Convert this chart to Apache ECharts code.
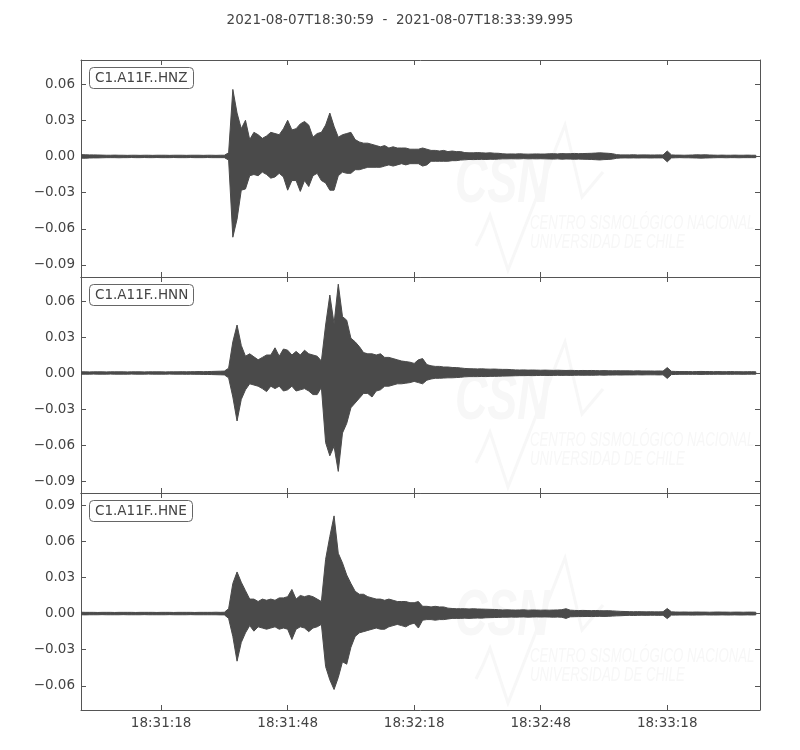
<!DOCTYPE html>
<html>
<head>
<meta charset="utf-8">
<script src="https://cdn.jsdelivr.net/npm/echarts@6/dist/echarts.min.js"></script>
<style>html,body{margin:0;padding:0;background:#fff}#c{width:800px;height:750px}</style>
</head>
<body>
<div id="c"></div>
<script>
// ---- data ----
const startLabel = '2021-08-07T18:30:59';
const endLabel = '2021-08-07T18:33:39.995';
const channels = ['C1.A11F..HNZ', 'C1.A11F..HNN', 'C1.A11F..HNE'];
const durationSec = 160.995;
const xTickValues = [19, 49, 79, 109, 139];
const xTickLabels = ['18:31:18', '18:31:48', '18:32:18', '18:32:48', '18:33:18'];
const yTicksZ = [-0.09, -0.06, -0.03, 0, 0.03, 0.06];
const yTicksN = [-0.09, -0.06, -0.03, 0, 0.03, 0.06];
const yTicksE = [-0.06, -0.03, 0, 0.03, 0.06, 0.09];
const yRangeZ = [-0.1, 0.08];
const yRangeN = [-0.1, 0.08];
const yRangeE = [-0.08, 0.1];

// envelope per 1-s bin (t = 0..160 s after start), in units of 1e-3
const hiZ = [
1.5,1.4,1.3,1.3,1.2,1.1,1.0,1.0,1.1,1.0,
1.0,0.9,1.0,1.0,0.9,1.0,1.0,0.9,1.0,1.0,
1.0,0.9,1.0,1.0,1.0,0.9,1.0,1.0,1.0,0.9,
1.0,1.0,0.9,1.0,1.0,
3,55.6,36,23,30,
14,20,18,15,17,20,19,18,23,30,
22,23,27,29,26,16,19,20,26,36,
25,16,18,19,20,14,12,11,11,10,
9,8,9,7,8,7,7,7,6,6,
6,7,6,5,5,4.5,5,4,4.5,4,
4,3.2,3,3,3.2,3,2.8,3,2.7,2.6,
2.2,2,2.1,2,2.2,2,1.9,2,2.1,2,
2,2.2,2.3,2.1,2.4,2.2,2.3,2.5,2.3,2.4,
2.5,2.6,2.8,3,2.8,2.6,2.3,1.5,1.3,1.3,
1.3,1.4,1.2,1.3,1.3,1.2,1.2,1.3,1.2,4.5,
1.3,1.1,1.1,1.0,1.1,1.2,1.4,1.3,1.4,1.2,
1.1,1.0,1.1,1.0,1.0,1.1,1.0,1.0,1.1,1.0,1.0];
const loZ = [
-1.4,-1.5,-1.3,-1.2,-1.2,-1.1,-1.0,-1.0,-1.0,-1.1,
-1.0,-1.0,-0.9,-1.0,-1.0,-0.9,-1.0,-1.0,-0.9,-1.0,
-1.0,-1.0,-0.9,-1.0,-1.0,-1.0,-0.9,-1.0,-1.0,-1.0,
-0.9,-1.0,-1.0,-1.0,-1.0,
-3,-67,-52,-28,-27,
-16,-15,-16,-13,-15,-18,-17,-14,-17,-28,
-20,-20,-29,-20,-25,-16,-14,-20,-22,-28,
-28,-16,-13,-14,-14,-11,-11,-10,-9,-9,
-9,-9,-8,-7,-8,-7,-6,-7,-6,-6,
-6,-8,-7,-4,-4,-4,-4,-4,-3.5,-3.5,
-3,-2.8,-2.5,-2.6,-2.5,-2.4,-2.5,-2.3,-2.4,-2.2,
-2,-2,-1.9,-2,-2,-1.8,-2,-1.9,-2,-1.9,
-2,-2.1,-2.2,-2,-2.3,-2.1,-2.2,-2.3,-2.2,-2.3,
-2.4,-2.5,-2.7,-2.9,-2.6,-2.5,-2.2,-1.5,-1.3,-1.2,
-1.3,-1.2,-1.3,-1.2,-1.2,-1.3,-1.2,-1.2,-1.2,-4.5,
-1.2,-1.1,-1.0,-1.1,-1.1,-1.2,-1.3,-1.4,-1.3,-1.2,
-1.1,-1.0,-1.0,-1.1,-1.0,-1.0,-1.1,-1.0,-1.0,-1.0,-1.0];
const hiN = [
1.0,1.0,0.9,1.0,1.0,1.0,0.9,1.0,1.0,1.0,
1.0,0.9,1.0,1.0,1.0,0.9,1.0,1.0,1.0,1.0,
0.9,1.0,1.0,1.0,1.1,1.0,1.1,1.1,1.2,1.1,
1.2,1.3,1.4,1.5,1.6,
4,26,40,23,14,
16,13.5,11,13,15,15,21,14,20,19,
15,18,15,19,16,15,14,10,40,65,
41,74,47,44,29,26,22,17,16,16,
15,16,13,13,12,11,10,9.5,9,8,
11,12,7,6,5.5,5.5,5,5,4.6,4.5,
4.2,3.8,3.6,3.5,3.4,3.5,3.3,3.2,3.3,3.1,
3,3,2.8,2.6,2.5,2.6,2.4,2.5,2.4,2.3,
2.4,2.3,2.2,2.3,2.2,2.1,2.2,2.1,2.0,2.1,
2.0,2.1,2.0,1.9,2.0,1.9,1.8,1.9,1.8,1.8,
1.8,1.7,1.8,1.7,1.7,1.7,1.6,1.7,1.6,4.5,
1.4,1.3,1.2,1.2,1.2,1.1,1.2,1.3,1.2,1.2,
1.1,1.2,1.1,1.1,1.2,1.1,1.1,1.0,1.1,1.1,1.0];
const loN = [
-1.0,-1.0,-1.0,-0.9,-1.0,-1.0,-1.0,-0.9,-1.0,-1.0,
-1.0,-1.0,-0.9,-1.0,-1.0,-1.0,-0.9,-1.0,-1.0,-1.0,
-1.0,-0.9,-1.0,-1.0,-1.0,-1.1,-1.0,-1.1,-1.1,-1.2,
-1.2,-1.3,-1.4,-1.5,-1.6,
-4,-20,-40,-22,-14,
-9,-10,-11,-13,-15.5,-11,-13,-11,-15,-14,
-11,-15,-14,-13,-15,-18,-18,-12,-58,-69,
-61,-82,-50,-42,-29,-25,-21,-17,-17,-20,
-15,-14,-11,-11,-10,-9,-9,-8.5,-8,-7,
-8,-9,-6,-5,-4.4,-4.4,-4.2,-4,-4,-3.8,
-3.6,-3.2,-3,-3,-3,-2.9,-3,-2.8,-2.8,-2.7,
-2.6,-2.5,-2.4,-2.3,-2.2,-2.2,-2.1,-2.2,-2.1,-2.0,
-2.0,-2.1,-2.0,-1.9,-2.0,-1.9,-2.0,-1.9,-1.8,-1.9,
-1.8,-1.9,-1.8,-1.7,-1.8,-1.7,-1.7,-1.6,-1.7,-1.6,
-1.6,-1.6,-1.5,-1.6,-1.5,-1.5,-1.5,-1.6,-1.5,-4.5,
-1.3,-1.2,-1.1,-1.1,-1.1,-1.1,-1.1,-1.2,-1.1,-1.1,
-1.1,-1.0,-1.1,-1.0,-1.1,-1.0,-1.0,-1.1,-1.0,-1.0,-1.0];
const hiE = [
1.1,1.0,1.0,1.0,0.9,1.0,1.0,1.0,0.9,1.0,
1.0,1.0,1.0,0.9,1.0,1.0,1.0,1.0,0.9,1.0,
1.0,1.0,0.9,1.0,1.0,1.0,1.0,0.9,1.0,1.0,
1.0,1.0,1.1,1.0,1.1,
4,25,34.5,26,19,
12,12,10,12,11,12,11,13,13,14,
20,12,15,14,15,14,12,10,45,64,
81,50,42,32,25,18.5,16,16,14,13,
12,12,11,12,11,10,10,10,9,9,
10,6,6,5.5,6,5.5,5.5,4.5,4.2,4,
4,4,3.8,4,3.8,3.7,3.6,3.5,3.4,3.2,
3,3.1,3,2.9,3,3.1,2.8,3,2.9,2.8,
2.9,2.8,2.9,3,3.2,4,2.8,2.6,2.5,2.6,
2.5,2.4,2.5,2.4,2.3,2.4,2.2,2.0,1.8,1.7,
1.6,1.5,1.6,1.5,1.4,1.5,1.4,1.4,1.5,4.2,
1.4,1.3,1.2,1.3,1.2,1.2,1.3,1.2,1.2,1.1,
1.2,1.3,1.2,1.2,1.1,1.2,1.2,1.1,1.2,1.2,1.1];
const loE = [
-1.0,-1.1,-1.0,-1.0,-1.0,-0.9,-1.0,-1.0,-1.0,-1.0,
-0.9,-1.0,-1.0,-1.0,-1.0,-0.9,-1.0,-1.0,-1.0,-1.0,
-1.0,-0.9,-1.0,-1.0,-1.0,-1.0,-0.9,-1.0,-1.0,-1.0,
-1.0,-1.0,-1.0,-1.1,-1.1,
-4,-19,-39.5,-24,-16,
-10,-14.6,-11,-12,-13,-12,-11,-13,-12,-13,
-21.5,-13,-11,-12,-15,-12,-11,-9,-44,-55,
-63,-53,-40,-42,-28,-19,-16,-15,-14,-13,
-12,-13,-13,-11,-10,-9,-10,-11,-9,-8,
-12,-5.5,-5,-5,-5.5,-5,-5,-4.5,-4,-4,
-4,-3.8,-4,-3.8,-3.7,-3.8,-3.5,-3.4,-3.3,-3.2,
-3,-3,-2.9,-3,-2.9,-2.8,-3,-2.9,-2.8,-2.9,
-2.8,-2.9,-3,-2.9,-3.1,-4,-2.7,-2.6,-2.5,-2.5,
-2.4,-2.5,-2.4,-2.3,-2.4,-2.3,-2.1,-1.9,-1.8,-1.6,
-1.5,-1.6,-1.5,-1.4,-1.5,-1.4,-1.4,-1.5,-1.4,-4.2,
-1.3,-1.3,-1.2,-1.2,-1.2,-1.3,-1.2,-1.2,-1.1,-1.2,
-1.2,-1.2,-1.1,-1.2,-1.2,-1.1,-1.2,-1.2,-1.1,-1.2,-1.1];

// ---- layout / style ----
const FONT = 'DejaVu Sans';
const TEXT = '#444';
const FRAME = '#555';
const TRACE = '#4a4a4a';
const WM = '#f7f7f7';
const tops = [60, 277, 493];
const heights = [217, 216, 217];
const ranges = [yRangeZ, yRangeN, yRangeE];
const yTicks = [yTicksZ, yTicksN, yTicksE];
const his = [hiZ, hiN, hiE];
const los = [loZ, loN, loE];

function yFmt(v) {
  const s = Math.abs(v).toFixed(2);
  return (v < -1e-9 ? '\u2212' : '') + s;
}
function xFmt(v) {
  const i = xTickValues.findIndex(t => Math.abs(t - v) < 1e-6);
  return i >= 0 ? xTickLabels[i] : '';
}

const grid = [], xAxis = [], yAxis = [], series = [], title = [], graphic = [];
title.push({
  text: startLabel + '  -  ' + endLabel,
  left: 'center', top: 13, padding: 0,
  textStyle: { fontFamily: FONT, fontSize: 13.5, fontWeight: 'normal', color: TEXT }
});

for (let k = 0; k < 3; k++) {
  grid.push({ left: 81, right: 40, top: tops[k], height: heights[k], containLabel: false });
  const lineCfg = { show: true, onZero: false, lineStyle: { color: FRAME, width: 1 } };
  const tickCfg = { show: true, inside: true, length: 5, lineStyle: { color: FRAME, width: 1 } };
  xAxis.push({
    gridIndex: k, type: 'value', position: 'bottom', min: 0, max: durationSec,
    axisLine: lineCfg,
    axisTick: Object.assign({ customValues: xTickValues }, tickCfg),
    axisLabel: { show: k === 2, customValues: xTickValues, formatter: xFmt, margin: 6,
      fontFamily: FONT, fontSize: 13.5, color: TEXT },
    splitLine: { show: false }
  });
  xAxis.push({
    gridIndex: k, type: 'value', position: 'top', min: 0, max: durationSec,
    axisLine: lineCfg,
    axisTick: Object.assign({ customValues: xTickValues }, tickCfg),
    axisLabel: { show: false },
    splitLine: { show: false }
  });
  yAxis.push({
    gridIndex: k, type: 'value', position: 'left', min: ranges[k][0], max: ranges[k][1],
    axisLine: lineCfg,
    axisTick: Object.assign({ customValues: yTicks[k] }, tickCfg),
    axisLabel: { customValues: yTicks[k], formatter: yFmt, margin: 6,
      fontFamily: FONT, fontSize: 13.5, color: TEXT },
    splitLine: { show: false }
  });
  yAxis.push({
    gridIndex: k, type: 'value', position: 'right', min: ranges[k][0], max: ranges[k][1],
    axisLine: lineCfg,
    axisTick: Object.assign({ customValues: yTicks[k] }, tickCfg),
    axisLabel: { show: false },
    splitLine: { show: false }
  });
  const hi = his[k], lo = los[k];
  const rows = hi.map((v, i) => [i, v / 1000, lo[i] / 1000]);
  // filled envelope polygon (upper edge forward, lower edge backward)
  series.push({
    type: 'custom', xAxisIndex: 2 * k, yAxisIndex: 2 * k,
    data: rows, encode: { x: 0, y: [1, 2] },
    silent: true, animation: false, z: 3, clip: true,
    renderItem: function (params, api) {
      if (params.dataIndex !== 0) return null;
      const pts = [];
      for (let i = 0; i < rows.length; i++) pts.push(api.coord([rows[i][0], rows[i][1]]));
      for (let i = rows.length - 1; i >= 0; i--) pts.push(api.coord([rows[i][0], rows[i][2]]));
      return {
        type: 'polygon', shape: { points: pts },
        style: { fill: TRACE, stroke: TRACE, lineWidth: 1, lineJoin: 'miter' }
      };
    }
  });
  title.push({
    text: channels[k], left: 89, top: tops[k] + 7,
    padding: [4, 6, 3, 6], borderColor: '#666', borderWidth: 1, borderRadius: 4,
    backgroundColor: '#fff',
    textStyle: { fontFamily: FONT, fontSize: 13.5, fontWeight: 'normal', color: TEXT, lineHeight: 15 }
  });
  // faint CSN watermark
  const T = tops[k];
  graphic.push({
    type: 'text', x: 455, y: T + 92, z: 1, silent: true, scaleX: 0.7,
    style: { text: 'CSN', font: 'italic bold 64px "Liberation Sans"', fill: WM, textVerticalAlign: 'top' }
  });
  graphic.push({
    type: 'polyline', z: 1, silent: true,
    shape: { points: [[476, T + 186], [483, T + 172], [490, T + 155], [508, T + 210], [565, T + 65], [582, T + 137], [603, T + 112]] },
    style: { stroke: WM, lineWidth: 3, fill: null }
  });
  graphic.push({
    type: 'text', x: 530, y: T + 163, z: 1, silent: true, scaleX: 0.66,
    style: { text: 'CENTRO SISMOLÓGICO NACIONAL', font: 'italic 20px "Liberation Sans"', fill: WM, textVerticalAlign: 'middle' }
  });
  graphic.push({
    type: 'text', x: 530, y: T + 182, z: 1, silent: true, scaleX: 0.66,
    style: { text: 'UNIVERSIDAD DE CHILE', font: 'italic 20px "Liberation Sans"', fill: WM, textVerticalAlign: 'middle' }
  });
}

const chart = echarts.init(document.getElementById('c'), null, { renderer: 'canvas' });
chart.setOption({
  backgroundColor: '#fff',
  animation: false,
  title, grid, xAxis, yAxis, series, graphic
});
</script>
</body>
</html>
